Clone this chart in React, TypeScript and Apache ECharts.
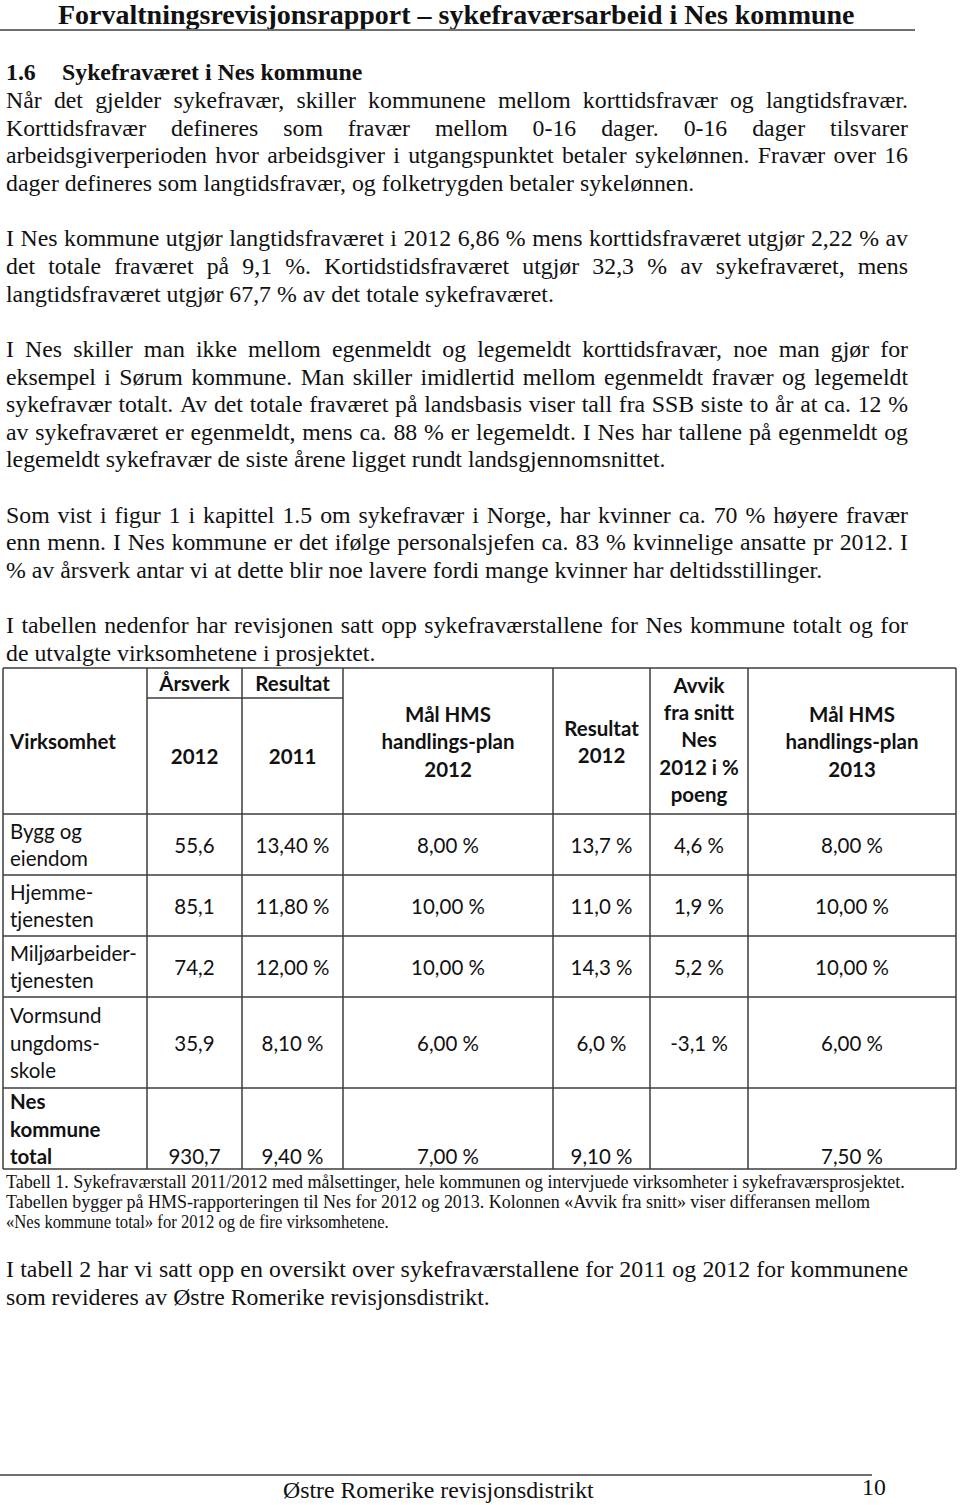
import React, { useEffect, useRef } from "react";
import * as echarts from "echarts";

// ---------- text content ----------
const pageTitle = "Forvaltningsrevisjonsrapport – sykefraværsarbeid i Nes kommune";
const sectionNumber = "1.6";
const sectionTitle = "Sykefraværet i Nes kommune";

const paragraphs: string[][] = [
  [
    "Når det gjelder sykefravær, skiller kommunene mellom korttidsfravær og langtidsfravær.",
    "Korttidsfravær defineres som fravær mellom 0-16 dager. 0-16 dager tilsvarer",
    "arbeidsgiverperioden hvor arbeidsgiver i utgangspunktet betaler sykelønnen. Fravær over 16",
    "dager defineres som langtidsfravær, og folketrygden betaler sykelønnen.",
  ],
  [
    "I Nes kommune utgjør langtidsfraværet i 2012 6,86 % mens korttidsfraværet utgjør 2,22 % av",
    "det totale fraværet på 9,1 %. Kortidstidsfraværet utgjør 32,3 % av sykefraværet, mens",
    "langtidsfraværet utgjør 67,7 % av det totale sykefraværet.",
  ],
  [
    "I Nes skiller man ikke mellom egenmeldt og legemeldt korttidsfravær, noe man gjør for",
    "eksempel i Sørum kommune. Man skiller imidlertid mellom egenmeldt fravær og legemeldt",
    "sykefravær totalt. Av det totale fraværet på landsbasis viser tall fra SSB siste to år at ca. 12 %",
    "av sykefraværet er egenmeldt, mens ca. 88 % er legemeldt. I Nes har tallene på egenmeldt og",
    "legemeldt sykefravær de siste årene ligget rundt landsgjennomsnittet.",
  ],
  [
    "Som vist i figur 1 i kapittel 1.5 om sykefravær i Norge, har kvinner ca. 70 % høyere fravær",
    "enn menn. I Nes kommune er det ifølge personalsjefen ca. 83 % kvinnelige ansatte pr 2012. I",
    "% av årsverk antar vi at dette blir noe lavere fordi mange kvinner har deltidsstillinger.",
  ],
  [
    "I tabellen nedenfor har revisjonen satt opp sykefraværstallene for Nes kommune totalt og for",
    "de utvalgte virksomhetene i prosjektet.",
  ],
];

const closingParagraph: string[] = [
  "I tabell 2 har vi satt opp en oversikt over sykefraværstallene for 2011 og 2012 for kommunene",
  "som revideres av Østre Romerike revisjonsdistrikt.",
];

const captionLines: string[] = [
  "Tabell 1. Sykefraværstall 2011/2012 med målsettinger, hele kommunen og intervjuede virksomheter i sykefraværsprosjektet.",
  "Tabellen bygger på HMS-rapporteringen til Nes for 2012 og 2013. Kolonnen «Avvik fra snitt» viser differansen mellom",
  "«Nes kommune total» for 2012 og de fire virksomhetene.",
];

const footerText = "Østre Romerike revisjonsdistrikt";
const pageNumber = "10";

// ---------- table data ----------
const headerVirksomhet = ["Virksomhet"];
const headerArsverk = ["Årsverk"];
const headerResultat = ["Resultat"];
const headerYear2012 = ["2012"];
const headerYear2011 = ["2011"];
const headerMal2012 = ["Mål HMS", "handlings-plan", "2012"];
const headerResultat2012 = ["Resultat", "2012"];
const headerAvvik = ["Avvik", "fra snitt", "Nes", "2012 i %", "poeng"];
const headerMal2013 = ["Mål HMS", "handlings-plan", "2013"];

const virksomheter: string[][] = [
  ["Bygg og", "eiendom"],
  ["Hjemme-", "tjenesten"],
  ["Miljøarbeider-", "tjenesten"],
  ["Vormsund", "ungdoms-", "skole"],
  ["Nes", "kommune", "total"],
];
const arsverk2012 = [55.6, 85.1, 74.2, 35.9, 930.7];
const resultat2011 = [13.4, 11.8, 12.0, 8.1, 9.4];
const malHms2012 = [8.0, 10.0, 10.0, 6.0, 7.0];
const resultat2012 = [13.7, 11.0, 14.3, 6.0, 9.1];
const resultat2012Decimals = [1, 1, 1, 1, 2];
const avvikFraSnitt: (number | null)[] = [4.6, 1.9, 5.2, -3.1, null];
const malHms2013 = [8.0, 10.0, 10.0, 6.0, 7.5];

const fmt = (v: number | null, d: number, pct: boolean) =>
  v === null ? "" : v.toFixed(d).replace(".", ",") + (pct ? " %" : "");

// ---------- layout ----------
const SERIF = "'Liberation Serif', 'Times New Roman', serif";
const SANS = "Lato, 'Open Sans', sans-serif";
const INK = "#111111";
const BODY_SIZE = 23.8;
const LEFT = 6;
const RIGHT = 908;

let measureCtx: CanvasRenderingContext2D | null = null;
function measure(text: string, size: number, family: string, weight = "normal") {
  if (!measureCtx) measureCtx = document.createElement("canvas").getContext("2d");
  measureCtx!.font = `${weight} ${size}px ${family}`;
  return measureCtx!.measureText(text).width;
}

function buildGraphics() {
  const els: any[] = [];
  const text = (
    t: string,
    x: number,
    y: number,
    o: { size?: number; family?: string; weight?: string; align?: string; scaleX?: number; fill?: string } = {}
  ) => {
    els.push({
      type: "text",
      x,
      y,
      scaleX: o.scaleX ?? 1,
      silent: true,
      style: {
        text: t,
        fill: o.fill ?? INK,
        fontSize: o.size ?? BODY_SIZE,
        fontFamily: o.family ?? SERIF,
        fontWeight: o.weight ?? "normal",
        textAlign: o.align ?? "left",
        textVerticalAlign: "middle",
      },
    });
  };
  const line = (x1: number, y1: number, x2: number, y2: number, stroke = "#3a3a3a", w = 1.5) => {
    els.push({ type: "line", silent: true, shape: { x1, y1, x2, y2 }, style: { stroke, lineWidth: w } });
  };
  const justified = (t: string, y: number) => {
    const words = t.split(" ");
    const widths = words.map((w) => measure(w, BODY_SIZE, SERIF));
    const total = widths.reduce((a, b) => a + b, 0);
    const gap = (RIGHT - LEFT - total) / Math.max(1, words.length - 1);
    let x = LEFT;
    words.forEach((w, i) => {
      text(w, x, y);
      x += widths[i] + gap;
    });
  };

  // page header
  const titleSize = 27;
  const titleW = measure(pageTitle, titleSize, SERIF, "bold");
  text(pageTitle, 58, 14.5, { size: titleSize, weight: "bold", scaleX: 797 / titleW });
  line(0, 30, 915, 30, "#6e6e6e", 2);

  // section heading
  const pitch = 27.65;
  const y0 = 100;
  text(sectionNumber, LEFT, y0 - pitch, { weight: "bold" });
  text(sectionTitle, 62, y0 - pitch, { weight: "bold" });

  let idx = 0;
  paragraphs.forEach((p) => {
    p.forEach((l, i) => {
      const y = y0 + pitch * idx;
      if (i < p.length - 1) justified(l, y);
      else text(l, LEFT, y);
      idx++;
    });
    idx++;
  });

  // table
  const cols = [3, 147, 242, 343, 553, 650, 748, 956];
  const rows = [668, 814, 875, 936, 997, 1088, 1169];
  const subLine = 698;
  const border = "#3c3c3c";
  line(cols[0], rows[0], cols[7], rows[0], border);
  line(cols[1], subLine, cols[3], subLine, border);
  for (let r = 1; r < rows.length; r++) line(cols[0], rows[r], cols[7], rows[r], border);
  cols.forEach((c) => line(c, rows[0], c, rows[rows.length - 1], border));

  const TS = 21.8;
  const tScale = 127 / measure("Miljøarbeider-", TS, SANS);
  const tp = 27.3;
  const cell = (lines: string[], cx: number, cy: number, bold: boolean, align = "center") => {
    lines.forEach((l, i) => {
      const y = cy + (i - (lines.length - 1) / 2) * tp;
      text(l, cx, y, { size: TS, family: SANS, weight: bold ? "bold" : "normal", align, scaleX: tScale });
    });
  };
  const mid = (a: number, b: number) => (a + b) / 2;
  const hMid = mid(rows[0], rows[1]);
  cell(headerVirksomhet, 10, hMid, true, "left");
  cell(headerArsverk, mid(cols[1], cols[2]), mid(rows[0], subLine), true);
  cell(headerResultat, mid(cols[2], cols[3]), mid(rows[0], subLine), true);
  cell(headerYear2012, mid(cols[1], cols[2]), mid(subLine, rows[1]), true);
  cell(headerYear2011, mid(cols[2], cols[3]), mid(subLine, rows[1]), true);
  cell(headerMal2012, mid(cols[3], cols[4]), hMid, true);
  cell(headerResultat2012, mid(cols[4], cols[5]), hMid, true);
  cell(headerAvvik, mid(cols[5], cols[6]), hMid - 2, true);
  cell(headerMal2013, mid(cols[6], cols[7]), hMid, true);

  virksomheter.forEach((lab, r) => {
    const top = rows[r + 1];
    const bot = rows[r + 2];
    const cy = mid(top, bot);
    const isTotal = r === virksomheter.length - 1;
    cell(lab, 10, cy, isTotal, "left");
    const vy = isTotal ? cy + ((lab.length - 1) / 2) * tp : cy;
    const values = [
      fmt(arsverk2012[r], 1, false),
      fmt(resultat2011[r], 2, true),
      fmt(malHms2012[r], 2, true),
      fmt(resultat2012[r], resultat2012Decimals[r], true),
      fmt(avvikFraSnitt[r], 1, true),
      fmt(malHms2013[r], 2, true),
    ];
    values.forEach((v, c) => {
      if (v) cell([v], mid(cols[c + 1], cols[c + 2]), vy, false);
    });
  });

  // caption
  const capSize = 19;
  const capEnds = [905, 870, 389];
  const capY = [1181, 1202, 1222];
  captionLines.forEach((l, i) => {
    const w = measure(l, capSize, SERIF);
    text(l, LEFT, capY[i], { size: capSize, scaleX: (capEnds[i] - LEFT) / w });
  });

  // closing paragraph
  closingParagraph.forEach((l, i) => {
    const y = 1269 + pitch * i;
    if (i < closingParagraph.length - 1) justified(l, y);
    else text(l, LEFT, y);
  });

  // footer
  line(0, 1475, 872, 1475, "#6e6e6e", 2);
  text(footerText, 283, 1490);
  text(pageNumber, 862, 1487);

  return els;
}

export default function App() {
  const ref = useRef<HTMLDivElement>(null);
  useEffect(() => {
    document.body.style.margin = "0";
    const chart = echarts.init(ref.current!, undefined, { renderer: "svg" });
    chart.setOption({
      animation: false,
      backgroundColor: "#ffffff",
      graphic: { elements: buildGraphics() },
    });
    return () => chart.dispose();
  }, []);
  return <div ref={ref} style={{ width: 960, height: 1505, position: "absolute", left: 0, top: 0 }} />;
}
